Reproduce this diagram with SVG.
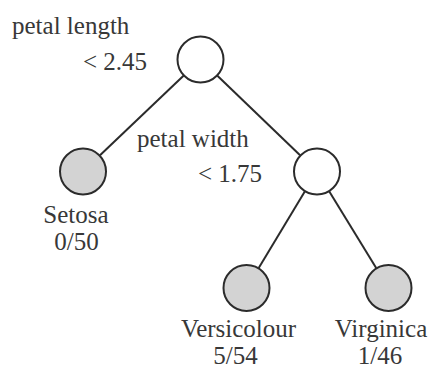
<svg xmlns="http://www.w3.org/2000/svg" width="430" height="368" viewBox="0 0 430 368">
  <style>
    .edge { stroke: #2b2b2b; stroke-width: 2; fill: none; }
    .split { fill: #ffffff; stroke: #2b2b2b; stroke-width: 2; }
    .leaf { fill: #d3d3d3; stroke: #2b2b2b; stroke-width: 2; }
    text { font-family: 'Liberation Serif', 'DejaVu Serif', serif; font-size: 25px; fill: #383838; }
    .mid { text-anchor: middle; }
    .end { text-anchor: end; }
  </style>
  <rect width="430" height="368" fill="#ffffff"/>

  <!-- tree edges -->
  <g id="connectors">
    <line class="edge" x1="183.5" y1="75.7" x2="100" y2="155.3"/>
    <line class="edge" x1="217.4" y1="75.8" x2="300.1" y2="155.2"/>
    <line class="edge" x1="304.8" y1="191.6" x2="258.7" y2="267.9"/>
    <line class="edge" x1="329.3" y1="191.5" x2="376.2" y2="268"/>
  </g>

  <!-- split on petal length -->
  <g id="root" font-family="Liberation Serif, serif">
    <circle class="split" cx="200.5" cy="59.5" r="23"/>
    <text x="12" y="34">petal length</text>
    <text class="end" x="147" y="70">&lt; 2.45</text>
  </g>

  <!-- split on petal width -->
  <g id="split-width">
    <circle class="split" cx="317" cy="171.5" r="23"/>
    <text x="137" y="147">petal width</text>
    <text class="end" x="262" y="182">&lt; 1.75</text>
  </g>

  <g id="leaf-setosa">
    <circle class="leaf" cx="83" cy="171.5" r="23"/>
    <text class="mid" x="76" y="223">Setosa</text>
    <text class="mid" x="76.5" y="250">0/50</text>
  </g>

  <g id="leaf-versicolour">
    <circle class="leaf" cx="246.5" cy="288" r="23"/>
    <text class="mid" x="238.5" y="337">Versicolour</text>
    <text class="mid" x="235.5" y="364">5/54</text>
  </g>

  <g id="leaf-virginica">
    <circle class="leaf" cx="388.5" cy="288" r="23"/>
    <text class="mid" x="381" y="337">Virginica</text>
    <text class="mid" x="380" y="364">1/46</text>
  </g>
</svg>
